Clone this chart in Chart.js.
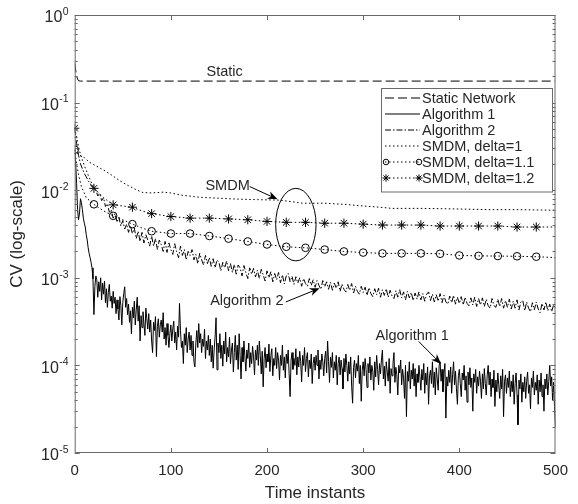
<!DOCTYPE html>
<html>
<head>
<meta charset="utf-8">
<script src="https://cdn.jsdelivr.net/npm/chart.js@4.4.0/dist/chart.umd.min.js"></script>
<style>
  html, body { margin: 0; padding: 0; background: #fff; }
  #wrap { width: 578px; height: 504px; }
</style>
</head>
<body>
<div id="wrap"><canvas id="cvChart" width="578" height="504"></canvas></div>
<script>
// axis ticks
const xTickValues = [0, 100, 200, 300, 400, 500];
const yTickExponents = [0, -1, -2, -3, -4, -5];

// static network
const staticX = [0, 1, 2, 3, 4, 6, 500];
const staticCV = [0.28, 0.235, 0.2, 0.185, 0.178, 0.176, 0.176];

// SMDM, delta=1
const smdm1X = [0, 2, 5, 10, 15, 20, 30, 40, 47, 55, 64, 71, 80, 92, 100, 110, 130, 150, 170, 190, 213, 230, 237, 260, 280, 300, 317, 330, 360, 400, 430, 460, 500];
const smdm1CV = [0.029, 0.027, 0.025, 0.0235, 0.021, 0.0195, 0.017, 0.0145, 0.0128, 0.0114, 0.0101, 0.0094, 0.0093, 0.0095, 0.0093, 0.0088, 0.0083, 0.0081, 0.0079, 0.0078, 0.0077, 0.0073, 0.0071, 0.0071, 0.0069, 0.0066, 0.0064, 0.0062, 0.0062, 0.0061, 0.0060, 0.0060, 0.0059];

// SMDM, delta=1.1
const smdm11X = [0, 2, 4, 7, 12, 20, 30, 40, 50, 60, 70, 80, 90, 100, 120, 140, 160, 180, 200, 220, 240, 260, 280, 300, 320, 340, 360, 380, 400, 420, 440, 460, 480, 500];
const smdm11CV = [0.029, 0.02, 0.015, 0.011, 0.0082, 0.0069, 0.0058, 0.0051, 0.0046, 0.0041, 0.0037, 0.0034, 0.0033, 0.0032, 0.0032, 0.0030, 0.0028, 0.0026, 0.0024, 0.00226, 0.0022, 0.0021, 0.0020, 0.00194, 0.0019, 0.0019, 0.0019, 0.00188, 0.0018, 0.00178, 0.00177, 0.00176, 0.00174, 0.0017];

// SMDM, delta=1.2
const smdm12X = [0, 2, 5, 10, 15, 20, 30, 40, 50, 60, 70, 80, 90, 100, 120, 140, 160, 180, 200, 220, 240, 260, 280, 300, 320, 340, 360, 380, 400, 420, 440, 460, 480, 500];
const smdm12CV = [0.051, 0.04, 0.028, 0.019, 0.014, 0.0105, 0.0082, 0.0068, 0.0066, 0.0064, 0.0058, 0.0054, 0.0052, 0.0050, 0.0048, 0.0048, 0.0047, 0.0046, 0.0044, 0.0043, 0.0043, 0.0042, 0.0042, 0.0041, 0.0040, 0.0040, 0.0040, 0.0039, 0.0039, 0.0039, 0.0039, 0.0038, 0.0038, 0.0038];

// Algorithm 1, one value per instant (0..500)
const alg1Step = 1;
const alg1CV = [
  2.9e-2, 2.0e-2, 1.2e-2, 6.0e-3, 4.6e-3, 5.5e-3, 8.0e-3, 7.2e-3, 6.0e-3, 4.8e-3,
  4.2e-3, 3.8e-3, 3.1e-3, 2.7e-3, 2.2e-3, 1.9e-3, 1.7e-3, 1.5e-3, 1.3e-3, 9.7e-4,
  3.8e-4, 8.0e-4, 1.05e-3, 9.5e-4, 6.0e-4, 9.0e-4, 7.0e-4, 1.0e-3, 5.6e-4, 8.7e-4,
  6.5e-4, 9.2e-4, 5.2e-4, 7.5e-4, 4.6e-4, 6.8e-4, 8.4e-4, 5.4e-4, 6.2e-4, 4.5e-4,
  7.0e-4, 5.1e-4, 6.0e-4, 3.9e-4, 5.6e-4, 4.4e-4, 3.3e-4, 6.1e-4, 4.8e-4, 2.9e-4,
  5.2e-4, 6.6e-4, 7.9e-4, 4.6e-4, 5.8e-4, 3.8e-4, 5.0e-4, 3.1e-4, 4.2e-4, 2.3e-4,
  4.6e-4, 3.5e-4, 5.4e-4, 2.9e-4, 4.3e-4, 6.0e-4, 3.2e-4, 4.8e-4, 1.9e-4, 3.7e-4,
  2.7e-4, 4.1e-4, 3.0e-4, 2.2e-4, 4.5e-4, 3.4e-4, 2.6e-4, 3.9e-4, 2.4e-4, 3.3e-4,
  1.9e-4, 1.4e-4, 3.1e-4, 2.5e-4, 3.6e-4, 1.26e-4, 2.8e-4, 3.4e-4, 2.1e-4, 2.9e-4,
  3.3e-4, 2.4e-4, 4.0e-4, 2.0e-4, 2.7e-4, 1.7e-4, 3.0e-4, 2.2e-4, 1.6e-4, 2.3e-4,
  2.9e-4, 1.9e-4, 2.6e-4, 3.2e-4, 1.8e-4, 2.4e-4, 1.5e-4, 2.8e-4, 2.1e-4, 5.1e-4,
  2.5e-4, 1.6e-4, 1.9e-4, 1.05e-4, 2.3e-4, 1.7e-4, 2.7e-4, 1.4e-4, 2.0e-4, 2.4e-4,
  1.5e-4, 2.2e-4, 1.3e-4, 1.9e-4, 1.1e-4, 9.6e-5, 1.8e-4, 2.5e-4, 1.6e-4, 3.0e-4,
  1.8e-4, 2.3e-4, 1.4e-4, 2.0e-4, 1.65e-4, 2.6e-4, 1.2e-4, 1.9e-4, 1.5e-4, 2.2e-4,
  1.3e-4, 2.0e-4, 1.1e-4, 1.7e-4, 9.3e-5, 1.5e-4, 2.1e-4, 3.5e-4, 8.9e-5, 1.8e-4,
  1.4e-4, 2.3e-4, 1.2e-4, 1.7e-4, 9.8e-5, 1.9e-4, 1.35e-4, 2.4e-4, 1.1e-4, 1.6e-4,
  1.25e-4, 2.1e-4, 1.05e-4, 1.5e-4, 1.8e-4, 8.4e-5, 1.4e-4, 2.2e-4, 1.15e-4, 1.7e-4,
  9.0e-5, 2.3e-4, 1.3e-4, 7.0e-5, 1.6e-4, 1.1e-4, 1.9e-4, 1.25e-4, 8.6e-5, 1.5e-4,
  1.2e-4, 1.8e-4, 9.5e-5, 1.4e-4, 1.05e-4, 1.65e-4, 1.25e-4, 7.8e-5, 1.5e-4, 1.15e-4,
  1.7e-4, 1.0e-4, 1.9e-4, 1.3e-4, 8.0e-5, 1.45e-4, 5.7e-5, 1.2e-4, 1.6e-4, 9.4e-5,
  1.35e-4, 1.1e-4, 1.75e-4, 8.5e-5, 1.3e-4, 1.55e-4, 7.6e-5, 1.2e-4, 1.0e-4, 1.6e-4,
  9.2e-5, 1.4e-4, 1.15e-4, 6.8e-5, 1.3e-4, 1.0e-4, 1.7e-4, 8.8e-5, 1.25e-4, 7.2e-5,
  1.35e-4, 1.05e-4, 1.5e-4, 8.0e-5, 4.4e-5, 1.15e-4, 1.4e-4, 9.0e-5, 1.2e-4, 1.0e-4,
  1.55e-4, 7.8e-5, 1.25e-4, 9.6e-5, 1.45e-4, 1.1e-4, 6.5e-5, 1.3e-4, 1.0e-4, 1.6e-4,
  8.5e-5, 1.2e-4, 1.4e-4, 7.4e-5, 1.15e-4, 9.2e-5, 1.35e-4, 6.2e-5, 1.05e-4, 1.25e-4,
  8.8e-5, 1.3e-4, 1.0e-4, 1.5e-4, 7.0e-5, 1.15e-4, 9.0e-5, 1.35e-4, 1.1e-4, 7.6e-5,
  1.2e-4, 1.45e-4, 8.2e-5, 1.9e-4, 1.1e-4, 6.4e-5, 1.25e-4, 9.5e-5, 1.4e-4, 7.2e-5,
  1.1e-4, 8.8e-5, 1.3e-4, 6.0e-5, 1.05e-4, 1.25e-4, 7.8e-5, 1.15e-4, 9.2e-5, 5.4e-5,
  1.2e-4, 8.4e-5, 1.35e-4, 1.0e-4, 6.6e-5, 1.1e-4, 8.0e-5, 1.25e-4, 5.8e-5, 3.7e-5,
  9.5e-5, 1.15e-4, 7.2e-5, 1.05e-4, 8.6e-5, 1.3e-4, 6.2e-5, 1.0e-4, 3.9e-5, 8.8e-5,
  1.1e-4, 7.6e-5, 1.2e-4, 9.0e-5, 5.6e-5, 1.05e-4, 8.2e-5, 1.25e-4, 6.8e-5, 1.0e-4,
  8.6e-5, 5.2e-5, 1.1e-4, 7.4e-5, 1.3e-4, 9.0e-5, 6.0e-5, 1.05e-4, 8.0e-5, 1.15e-4,
  1.5e-4, 7.0e-5, 9.8e-5, 5.8e-5, 1.1e-4, 8.4e-5, 6.6e-5, 1.2e-4, 4.8e-5, 9.2e-5,
  7.6e-5, 1.05e-4, 1.4e-4, 6.4e-5, 9.5e-5, 7.8e-5, 4.6e-5, 1.0e-4, 8.2e-5, 1.15e-4,
  6.0e-5, 9.0e-5, 7.2e-5, 4.2e-5, 1.0e-4, 2.6e-5, 8.5e-5, 6.6e-5, 1.1e-4, 5.4e-5,
  8.8e-5, 7.0e-5, 1.05e-4, 5.8e-5, 9.2e-5, 4.4e-5, 8.0e-5, 6.4e-5, 1.0e-4, 7.4e-5,
  5.2e-5, 9.0e-5, 6.8e-5, 1.05e-4, 4.8e-5, 8.2e-5, 6.0e-5, 9.6e-5, 3.6e-5, 7.6e-5,
  8.8e-5, 6.2e-5, 1.1e-4, 5.6e-5, 8.4e-5, 4.6e-5, 9.4e-5, 7.0e-5, 5.2e-5, 1.0e-4,
  1.1e-4, 6.6e-5, 9.0e-5, 5.0e-5, 8.2e-5, 1.05e-4, 2.5e-5, 7.4e-5, 5.8e-5, 8.8e-5,
  6.4e-5, 9.6e-5, 4.8e-5, 7.8e-5, 1.1e-4, 6.0e-5, 8.6e-5, 5.4e-5, 3.6e-5, 7.6e-5,
  9.0e-5, 6.2e-5, 4.4e-5, 8.2e-5, 6.8e-5, 1.0e-4, 5.2e-5, 7.6e-5, 3.8e-5, 8.4e-5,
  6.0e-5, 9.4e-5, 5.6e-5, 7.2e-5, 3.0e-5, 8.0e-5, 6.4e-5, 9.0e-5, 4.8e-5, 7.4e-5,
  5.8e-5, 8.6e-5, 6.6e-5, 4.2e-5, 8.0e-5, 5.4e-5, 9.2e-5, 6.2e-5, 4.6e-5, 7.8e-5,
  1.0e-4, 6.0e-5, 8.4e-5, 4.4e-5, 7.0e-5, 5.6e-5, 8.8e-5, 3.4e-5, 6.8e-5, 5.0e-5,
  8.2e-5, 6.0e-5, 4.2e-5, 7.6e-5, 5.4e-5, 9.0e-5, 2.6e-5, 6.6e-5, 7.8e-5, 4.8e-5,
  7.2e-5, 5.6e-5, 8.6e-5, 4.4e-5, 6.6e-5, 5.0e-5, 7.8e-5, 3.6e-5, 6.2e-5, 8.2e-5,
  4.6e-5, 2.1e-5, 6.8e-5, 5.4e-5, 8.0e-5, 3.8e-5, 6.4e-5, 5.0e-5, 7.4e-5, 4.2e-5,
  6.6e-5, 8.4e-5, 4.8e-5, 6.0e-5, 3.2e-5, 7.2e-5, 5.6e-5, 8.6e-5, 4.6e-5, 6.4e-5,
  5.2e-5, 7.8e-5, 3.6e-5, 6.8e-5, 5.0e-5, 8.2e-5, 4.4e-5, 6.0e-5, 3.0e-5, 7.0e-5,
  5.4e-5, 8.0e-5, 4.6e-5, 6.6e-5, 1.0e-4, 5.8e-5, 7.4e-5, 4.0e-5, 6.4e-5, 3.4e-5,
  2.0e-5
];

// Algorithm 2, one value every 2 instants (0..500)
const alg2Step = 2;
const alg2CV = [
  5.0e-2, 3.4e-2, 2.5e-2, 2.0e-2, 1.75e-2, 1.55e-2, 1.42e-2, 1.28e-2, 1.2e-2, 1.1e-2,
  1.05e-2, 1.0e-2, 8.6e-3, 9.2e-3, 7.6e-3, 8.2e-3, 6.5e-3, 7.0e-3, 5.6e-3, 6.0e-3,
  4.8e-3, 5.4e-3, 4.3e-3, 4.9e-3, 3.9e-3, 4.5e-3, 3.6e-3, 4.1e-3, 3.3e-3, 3.9e-3,
  3.2e-3, 3.7e-3, 2.8e-3, 3.4e-3, 2.6e-3, 3.3e-3, 2.5e-3, 3.1e-3, 2.7e-3, 2.3e-3,
  3.0e-3, 2.3e-3, 2.8e-3, 2.1e-3, 2.7e-3, 2.4e-3, 2.0e-3, 2.6e-3, 1.95e-3, 2.5e-3,
  2.1e-3, 1.85e-3, 2.45e-3, 2.0e-3, 1.7e-3, 2.3e-3, 1.8e-3, 2.1e-3, 1.6e-3, 2.0e-3,
  1.8e-3, 2.1e-3, 1.6e-3, 1.85e-3, 1.45e-3, 1.9e-3, 1.6e-3, 1.4e-3, 1.8e-3, 1.45e-3,
  1.7e-3, 1.35e-3, 1.65e-3, 1.3e-3, 1.6e-3, 1.5e-3, 1.2e-3, 1.5e-3, 1.3e-3, 1.55e-3,
  1.2e-3, 1.45e-3, 1.15e-3, 1.42e-3, 1.1e-3, 1.4e-3, 1.3e-3, 1.05e-3, 1.38e-3, 1.15e-3,
  9.8e-4, 1.3e-3, 1.1e-3, 1.28e-3, 1.02e-3, 1.22e-3, 9.8e-4, 1.25e-3, 1.08e-3, 9.2e-4,
  1.2e-3, 1.0e-3, 1.17e-3, 9.0e-4, 1.12e-3, 9.5e-4, 1.15e-3, 8.8e-4, 1.08e-3, 8.5e-4,
  1.05e-3, 1.12e-3, 9.0e-4, 1.04e-3, 8.4e-4, 1.03e-3, 8.7e-4, 1.0e-3, 8.0e-4, 9.8e-4,
  8.6e-4, 8.0e-4, 9.8e-4, 8.2e-4, 9.5e-4, 7.8e-4, 9.3e-4, 8.2e-4, 7.4e-4, 9.3e-4,
  7.9e-4, 9.0e-4, 7.4e-4, 8.9e-4, 7.2e-4, 8.7e-4, 7.6e-4, 9.0e-4, 7.0e-4, 8.5e-4,
  7.4e-4, 6.9e-4, 8.4e-4, 7.2e-4, 8.6e-4, 6.7e-4, 8.0e-4, 7.0e-4, 6.5e-4, 8.0e-4,
  6.8e-4, 7.8e-4, 6.3e-4, 7.7e-4, 6.6e-4, 6.1e-4, 7.5e-4, 6.4e-4, 7.6e-4, 6.0e-4,
  7.3e-4, 6.3e-4, 7.5e-4, 6.0e-4, 7.2e-4, 6.2e-4, 5.8e-4, 7.1e-4, 6.0e-4, 7.3e-4,
  5.9e-4, 6.9e-4, 5.6e-4, 7.0e-4, 5.9e-4, 6.8e-4, 5.5e-4, 6.7e-4, 5.7e-4, 6.9e-4,
  5.6e-4, 6.6e-4, 5.4e-4, 6.5e-4, 6.9e-4, 5.5e-4, 6.5e-4, 5.3e-4, 6.4e-4, 5.4e-4,
  6.6e-4, 5.2e-4, 6.3e-4, 5.3e-4, 5.0e-4, 6.2e-4, 5.2e-4, 6.3e-4, 5.0e-4, 6.0e-4,
  5.1e-4, 6.1e-4, 4.9e-4, 6.0e-4, 5.1e-4, 4.8e-4, 5.9e-4, 4.9e-4, 6.0e-4, 4.7e-4,
  5.8e-4, 4.9e-4, 5.9e-4, 4.7e-4, 5.7e-4, 4.8e-4, 4.5e-4, 5.8e-4, 4.8e-4, 4.6e-4,
  5.7e-4, 4.7e-4, 5.8e-4, 4.5e-4, 5.5e-4, 4.6e-4, 5.7e-4, 4.4e-4, 5.4e-4, 4.5e-4,
  5.6e-4, 4.3e-4, 5.3e-4, 5.5e-4, 4.2e-4, 5.3e-4, 4.5e-4, 4.1e-4, 5.2e-4, 4.3e-4,
  5.3e-4, 4.4e-4, 4.0e-4, 5.1e-4, 4.3e-4, 5.3e-4, 4.2e-4, 5.0e-4, 4.1e-4, 4.9e-4,
  4.5e-4
];

// text notes and arrows, placed in data coordinates
const notes = [
  { text: 'Static', x: 156, y: 0.224 },
  { text: 'SMDM', x: 159, y: 0.0113, from: [182, 0.0110], to: [211, 0.00787] },
  { text: 'Algorithm 2', x: 179, y: 0.000537, from: [219.5, 0.00053], to: [254.7, 0.00076] },
  { text: 'Algorithm 1', x: 351, y: 0.000217, from: [357.8, 0.000187], to: [381, 0.000104] }
];
const ringX = [209, 251];
const ringY = [0.00156, 0.0105];

const toPoints = (xs, ys) => ys.map((v, i) => ({ x: xs[i], y: v }));
const stepPoints = (ys, step) => ys.map((v, i) => ({ x: i * step, y: v }));
const markEvery20 = r => c => (c.raw && c.raw.x % 20 === 0 && c.raw.x <= 480) ? r : 0;

const ink = '#000000';
const axisColor = '#6a6a6a';
const textColor = '#262626';
const font = 'Liberation Sans, Arial, Helvetica, sans-serif';

const frame = {
  id: 'frame',
  afterDatasetsDraw(chart) {
    const { ctx, chartArea: a, scales: { x, y } } = chart;
    ctx.save();

    // annotations
    ctx.fillStyle = textColor;
    ctx.strokeStyle = ink;
    ctx.lineWidth = 1;
    ctx.font = `14.5px ${font}`;
    ctx.textAlign = 'center';
    ctx.textBaseline = 'middle';
    notes.forEach(n => {
      ctx.fillText(n.text, x.getPixelForValue(n.x), y.getPixelForValue(n.y));
      if (n.from) {
        const x0 = x.getPixelForValue(n.from[0]), y0 = y.getPixelForValue(n.from[1]);
        const x1 = x.getPixelForValue(n.to[0]), y1 = y.getPixelForValue(n.to[1]);
        const c = Math.cos(Math.atan2(y1 - y0, x1 - x0)), s = Math.sin(Math.atan2(y1 - y0, x1 - x0));
        ctx.beginPath();
        ctx.moveTo(x0, y0);
        ctx.lineTo(x1 - 6 * c, y1 - 6 * s);
        ctx.stroke();
        ctx.beginPath();
        ctx.moveTo(x1, y1);
        ctx.lineTo(x1 - 10 * c + 4 * s, y1 - 10 * s - 4 * c);
        ctx.lineTo(x1 - 7 * c, y1 - 7 * s);
        ctx.lineTo(x1 - 10 * c - 4 * s, y1 - 10 * s + 4 * c);
        ctx.closePath();
        ctx.fillStyle = ink;
        ctx.fill();
        ctx.fillStyle = textColor;
      }
    });
    const rx0 = x.getPixelForValue(ringX[0]), rx1 = x.getPixelForValue(ringX[1]);
    const ry0 = y.getPixelForValue(ringY[1]), ry1 = y.getPixelForValue(ringY[0]);
    ctx.beginPath();
    ctx.ellipse((rx0 + rx1) / 2, (ry0 + ry1) / 2, (rx1 - rx0) / 2, (ry1 - ry0) / 2, 0, 0, Math.PI * 2);
    ctx.stroke();

    // box and inward ticks
    ctx.strokeStyle = axisColor;
    ctx.lineWidth = 1;
    ctx.strokeRect(a.left + 0.5, a.top + 0.5, a.right - a.left - 1, a.bottom - a.top - 1);
    ctx.beginPath();
    xTickValues.slice(1, -1).forEach(v => {
      const px = Math.round(x.getPixelForValue(v)) + 0.5;
      ctx.moveTo(px, a.bottom); ctx.lineTo(px, a.bottom - 5);
      ctx.moveTo(px, a.top); ctx.lineTo(px, a.top + 5);
    });
    yTickExponents.forEach(e => {
      const base = Math.pow(10, e);
      const py = Math.round(y.getPixelForValue(base)) + 0.5;
      ctx.moveTo(a.left, py); ctx.lineTo(a.left + 5, py);
      ctx.moveTo(a.right, py); ctx.lineTo(a.right - 5, py);
      if (e > -5) {
        for (let m = 2; m <= 9; m++) {
          const my = Math.round(y.getPixelForValue(m * base / 10)) + 0.5;
          ctx.moveTo(a.left, my); ctx.lineTo(a.left + 3, my);
          ctx.moveTo(a.right, my); ctx.lineTo(a.right - 3, my);
        }
      }
    });
    ctx.stroke();

    // tick labels
    ctx.fillStyle = textColor;
    ctx.font = `15px ${font}`;
    ctx.textAlign = 'center';
    xTickValues.forEach(v => ctx.fillText(String(v), x.getPixelForValue(v), a.bottom + 18));
    yTickExponents.forEach(e => {
      const py = y.getPixelForValue(Math.pow(10, e));
      const sup = String(e);
      ctx.font = `10.5px ${font}`;
      ctx.textAlign = 'right';
      const supW = ctx.measureText(sup).width;
      ctx.fillText(sup, a.left - 6, py - 3);
      ctx.font = `16px ${font}`;
      ctx.fillText('10', a.left - 6 - supW - 0.5, py + 3);
    });

    // axis titles
    ctx.font = `17px ${font}`;
    ctx.textAlign = 'center';
    ctx.fillText('Time instants', (a.left + a.right) / 2, 493);
    ctx.save();
    ctx.translate(17, (a.top + a.bottom) / 2);
    ctx.rotate(-Math.PI / 2);
    ctx.fillText('CV (log-scale)', 0, 0);
    ctx.restore();

    // legend
    const lx = 381.5, ly = 88.5, lw = 171, lh = 103.5;
    ctx.fillStyle = '#ffffff';
    ctx.fillRect(lx, ly, lw, lh);
    ctx.strokeStyle = axisColor;
    ctx.strokeRect(lx, ly, lw, lh);
    ctx.font = `14.5px ${font}`;
    ctx.textAlign = 'left';
    chart.data.datasets.forEach((ds, i) => {
      const ry = 98 + i * 16;
      ctx.strokeStyle = ink;
      ctx.lineWidth = 1;
      ctx.setLineDash(ds.borderDash || []);
      ctx.beginPath();
      ctx.moveTo(385, ry); ctx.lineTo(420, ry);
      ctx.stroke();
      ctx.setLineDash([]);
      if (ds.pointStyle) {
        ctx.fillStyle = 'rgba(0,0,0,0)';
        [386, 419].forEach(px => Chart.helpers.drawPoint(ctx, {
          pointStyle: ds.pointStyle, radius: ds.pointStyle === 'star' ? 3.6 : 2.8, borderWidth: 1, rotation: 0
        }, px, ry));
      }
      ctx.fillStyle = textColor;
      ctx.fillText(ds.label, 422, ry + 0.5);
    });
    ctx.restore();
  }
};

const lineBase = { borderColor: ink, borderWidth: 1, pointRadius: 0, tension: 0, fill: false };
const dotted = [1.5, 2.5];

new Chart(document.getElementById('cvChart'), {
  type: 'line',
  data: {
    datasets: [
      { ...lineBase, label: 'Static Network', data: toPoints(staticX, staticCV), borderDash: [9, 4] },
      { ...lineBase, label: 'Algorithm 1', data: stepPoints(alg1CV, alg1Step) },
      { ...lineBase, label: 'Algorithm 2', data: stepPoints(alg2CV, alg2Step), borderDash: [6, 2, 1.5, 2] },
      { ...lineBase, label: 'SMDM, delta=1', data: toPoints(smdm1X, smdm1CV), borderDash: dotted },
      { ...lineBase, label: 'SMDM, delta=1.1', data: toPoints(smdm11X, smdm11CV), borderDash: dotted,
        pointStyle: 'circle', pointRadius: markEvery20(3.8), pointBorderColor: ink, pointBackgroundColor: 'rgba(0,0,0,0)', pointBorderWidth: 1 },
      { ...lineBase, label: 'SMDM, delta=1.2', data: toPoints(smdm12X, smdm12CV), borderDash: dotted,
        pointStyle: 'star', pointRadius: markEvery20(4.6), pointBorderColor: ink, pointBorderWidth: 1 }
    ]
  },
  options: {
    responsive: false,
    animation: false,
    devicePixelRatio: 1,
    layout: { padding: { top: 15, right: 22.5, left: 0, bottom: 0 } },
    plugins: { legend: { display: false }, tooltip: { enabled: false } },
    scales: {
      x: {
        type: 'linear', min: 0, max: 500,
        grid: { display: false, drawTicks: false },
        border: { display: false },
        ticks: { display: false },
        afterFit: s => { s.height = 51; }
      },
      y: {
        type: 'logarithmic', min: 1e-5, max: 1,
        grid: { display: false, drawTicks: false },
        border: { display: false },
        ticks: { display: false },
        afterFit: s => { s.width = 74.7; }
      }
    }
  },
  plugins: [frame]
});
</script>
</body>
</html>
